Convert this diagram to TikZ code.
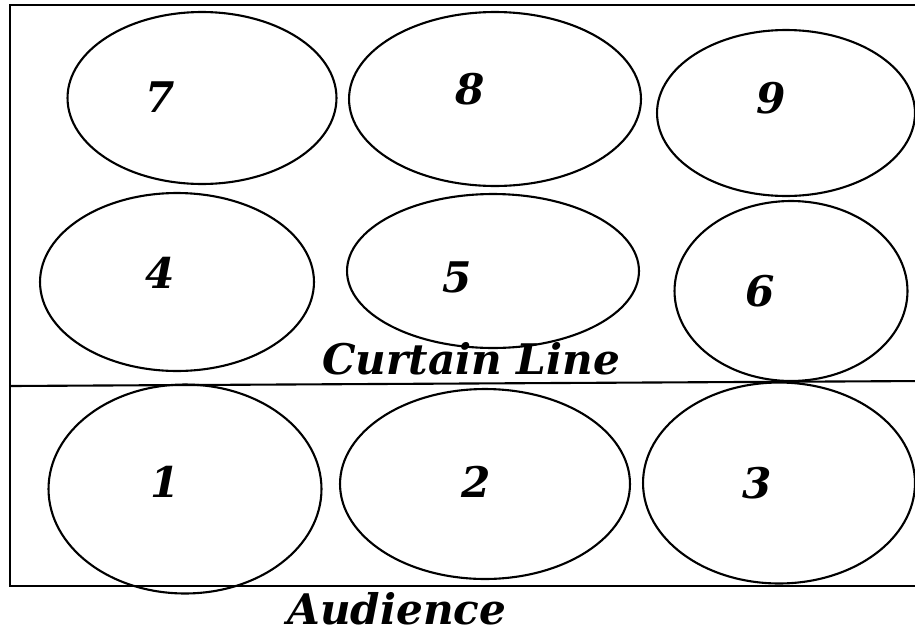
\documentclass[tikz,border=0pt]{standalone}
\usepackage{fontspec}
\setmainfont{DejaVu Serif}
\usetikzlibrary{shapes.geometric}
\tikzstyle{seat}=[draw,ellipse,line width=1.2pt,inner sep=0pt]
\tikzstyle{num}=[font=\fontsize{24}{24}\selectfont\bfseries\itshape,inner sep=0pt]

\begin{document}
\begin{tikzpicture}[x=0.02cm,y=-0.02cm]
  \useasboundingbox (0,0) rectangle (915,636);
  % stage outline and curtain line
  \draw[line width=1.4pt] (10,5) rectangle (925,586);
  \coordinate (cleft) at (10,386);
  \coordinate (cright) at (925,381);
  \draw[line width=1.2pt] (cleft) -- (cright);
  % stage areas
  \foreach \n/\x/\y/\w/\h/\lx/\ly in {
    7/202/98/5.38/3.44/160/97,
    8/495/99/5.84/3.48/470/89,
    9/786/113/5.16/3.32/771/98,
    4/177/282/5.48/3.56/160/273,
    5/493/271/5.84/3.08/457/277,
    6/791/291/4.66/3.6/760/291,
    1/185/489/5.46/4.18/165/482,
    2/485/484/5.8/3.8/476/482,
    3/779/483/5.44/4.02/757/483}{
    \node[seat,minimum width=\w cm,minimum height=\h cm] (area\n) at (\x,\y) {};
    \node[num] (lab\n) at (\lx,\ly) {\n};
  }
  \node[num] (curtain) at (471,359) {Curtain Line};
  \node[num] (audience) at (397,609) {Audience};
\end{tikzpicture}
\end{document}
